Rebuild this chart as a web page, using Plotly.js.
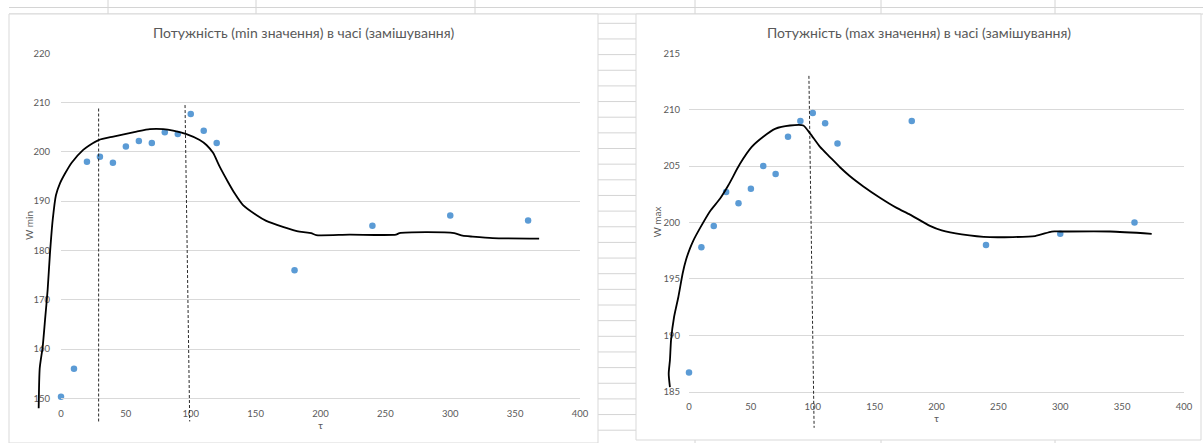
<!DOCTYPE html>
<html>
<head>
<meta charset="utf-8">
<script src="https://cdn.plot.ly/plotly-3.0.1.min.js"></script>
<style>
html,body{margin:0;padding:0;background:#fff;}
#chart{width:1203px;height:443px;}
</style>
</head>
<body>
<div id="chart"></div>
<script>
// ---------- DATA ----------
const tau = [0, 10, 20, 30, 40, 50, 60, 70, 80, 90, 100, 110, 120, 180, 240, 300, 360];
const wMin = [150.3, 156.0, 198.0, 199.0, 197.8, 201.1, 202.2, 201.8, 204.0, 203.65, 207.7, 204.3, 201.8, 176.0, 185.0, 187.1, 186.1];
const wMax = [186.7, 197.8, 199.7, 202.7, 201.7, 203.0, 205.0, 204.3, 207.6, 209.0, 209.7, 208.8, 207.0, 209.0, 198.0, 199.0, 200.0];

// hand-drawn trend curve, min chart
const curveMinT = [-17.2, -16.4, -14.1, -12.3, -10.3, -8.5, -6.4, -3.9, -0.8, 3.1, 8.2, 17.1, 22.3, 29.0, 40.3, 58.2, 68.5, 78.8, 86.4, 96.7, 106.9, 112.1, 117.2, 122.3, 128.7, 133.8, 140.3, 150.5, 158.2, 171, 183.8, 192.8, 196.7, 222.3, 258.2, 260.8, 281.3, 303.1, 309.5, 317.2, 332.6, 368.5];
const curveMinW = [148.0, 156.1, 160.5, 165.9, 172.0, 179.4, 186.2, 191.2, 193.6, 195.6, 197.8, 200.4, 201.4, 202.4, 203.1, 204.1, 204.6, 204.6, 204.3, 203.6, 202.4, 201.4, 199.8, 197.0, 193.9, 191.6, 189.2, 187.2, 186.0, 184.8, 183.8, 183.5, 183.1, 183.2, 183.2, 183.5, 183.7, 183.5, 183.0, 182.8, 182.5, 182.4];

// hand-drawn trend curve, max chart
const curveMaxT = [-15.4, -16.4, -15.4, -14.5, -12.1, -8.6, -5.1, -2.4, 0.8, 3.5, 8.9, 17, 25, 31.8, 41.2, 50.7, 60, 69.5, 81.6, 92.4, 97.8, 105.9, 113.9, 122, 130.1, 140.9, 154.3, 167.8, 178.6, 194.7, 204.2, 220.4, 243.2, 279.6, 293.1, 299.8, 340.2, 373.9];
const curveMaxW = [185.4, 186.6, 187.8, 189.6, 191.6, 193.4, 195.5, 196.7, 197.7, 198.4, 199.5, 201.0, 202.1, 203.3, 205.2, 206.7, 207.6, 208.3, 208.6, 208.6, 207.9, 206.7, 205.8, 204.9, 204.1, 203.2, 202.2, 201.3, 200.7, 199.7, 199.3, 198.95, 198.7, 198.8, 199.2, 199.2, 199.2, 199.0];

// dashed marker lines (tau at top, tau at bottom; W at top, W at bottom)
const cutMinA_T = [29, 29],    cutMinA_W = [208.8, 145.3];
const cutMinB_T = [95.6, 99.2], cutMinB_W = [209.5, 145.3];
const cutMax_T  = [96.9, 101.1], cutMax_W  = [213.0, 181.8];

const xTicks = [0, 50, 100, 150, 200, 250, 300, 350, 400];
const yTicksMin = [150, 160, 170, 180, 190, 200, 210, 220];
const yTicksMax = [185, 190, 195, 200, 205, 210, 215];

const titleMin = 'Потужність (min значення) в часі (замішування)';
const titleMax = 'Потужність (max значення) в часі (замішування)';
const yTitleMin = 'W min';
const yTitleMax = 'W max';
const xTitle = 'τ';

// ---------- LAYOUT HELPERS ----------
const W = 1203, H = 443;
const fx = p => p / W;
const fy = p => 1 - p / H;
function extRange(vis, ext, r) {
  const k = (r[1] - r[0]) / (vis[1] - vis[0]);
  return [r[0] - (vis[0] - ext[0]) * k, r[1] + (ext[1] - vis[1]) * k];
}
const FONT = 'Lato, "Open Sans", sans-serif';
const GRAY = '#595959';
const GRID = '#d9d9d9';

const xRange = [0, 400], yMinRange = [150, 220], yMaxRange = [185, 215];
const xDomL = [fx(61), fx(580)], yDomL = [fy(398.3), fy(53.3)];
const xDomR = [fx(689), fx(1184)], yDomR = [fy(391.7), fy(53.3)];
const xExtL = [fx(28), fx(580)], yExtL = [fy(432), fy(53.3)];
const xExtR = [fx(658), fx(1184)], yExtR = [fy(432), fy(53.3)];

function visX(dom, anchor) {
  return {domain: dom, anchor: anchor, range: xRange, tickvals: xTicks, showgrid: false,
    zeroline: false, showline: true, linecolor: GRID, linewidth: 1,
    ticks: 'outside', ticklen: 6, tickcolor: 'rgba(0,0,0,0)',
    tickfont: {family: FONT, size: 9.5, color: GRAY},
    title: {text: xTitle, font: {family: FONT, size: 10, color: GRAY}, standoff: 2}};
}
function visY(dom, anchor, range, ticks, sl) {
  return {domain: dom, anchor: anchor, range: range, tickvals: ticks, showgrid: true,
    gridcolor: GRID, gridwidth: 1, zeroline: false, showline: false, ticks: 'outside',
    ticklen: sl, tickcolor: 'rgba(0,0,0,0)',
    tickfont: {family: FONT, size: 9.5, color: GRAY}};
}
function hid(dom, anchor, range) {
  return {domain: dom, anchor: anchor, range: range, visible: false, showgrid: false, zeroline: false};
}

// ---------- TRACES ----------
const curveLine = {color: '#000000', width: 1.8, shape: 'spline', smoothing: 0.6};
const dashLine = {color: '#2a2a2a', width: 1, dash: '3px,2px'};
const mk = {color: '#5B9BD5', size: 6.5};

const traces = [
  {x: cutMinA_T, y: cutMinA_W, xaxis: 'x3', yaxis: 'y3', mode: 'lines', line: dashLine, hoverinfo: 'skip'},
  {x: cutMinB_T, y: cutMinB_W, xaxis: 'x3', yaxis: 'y3', mode: 'lines', line: dashLine, hoverinfo: 'skip'},
  {x: curveMinT, y: curveMinW, xaxis: 'x3', yaxis: 'y3', mode: 'lines', line: curveLine},
  {x: tau, y: wMin, xaxis: 'x', yaxis: 'y', mode: 'markers', marker: mk, cliponaxis: false},
  {x: cutMax_T, y: cutMax_W, xaxis: 'x4', yaxis: 'y4', mode: 'lines', line: dashLine, hoverinfo: 'skip'},
  {x: curveMaxT, y: curveMaxW, xaxis: 'x4', yaxis: 'y4', mode: 'lines', line: curveLine},
  {x: tau, y: wMax, xaxis: 'x2', yaxis: 'y2', mode: 'markers', marker: mk, cliponaxis: false}
];

// ---------- SPREADSHEET BACKDROP (decoration) ----------
const LINE = '#d4d4d4';
const shapes = [];
function pl(x0, y0, x1, y1, c) {
  shapes.push({type: 'line', xref: 'paper', yref: 'paper', x0: fx(x0), x1: fx(x1), y0: fy(y0), y1: fy(y1),
    line: {color: c || LINE, width: 1}, layer: 'below'});
}
pl(9, 7.5, 1203, 7.5);
pl(9, 14, 1203, 14);
[108, 256, 475, 695, 881, 1055].forEach(x => pl(x, 0, x, 14));
[695, 881, 1055].forEach(x => pl(x, 440, x, 443));
for (let y = 23.3; y < 443; y += 15.65) pl(598, y, 636, y);
shapes.push({type: 'rect', xref: 'paper', yref: 'paper', x0: fx(9), x1: fx(598), y0: fy(443), y1: fy(14),
  fillcolor: '#ffffff', line: {color: '#d9d9d9', width: 1}, layer: 'below'});
shapes.push({type: 'rect', xref: 'paper', yref: 'paper', x0: fx(636), x1: fx(1201), y0: fy(440), y1: fy(14),
  fillcolor: '#ffffff', line: {color: '#d9d9d9', width: 1}, layer: 'below'});

function ann(text, x, y, size, angle) {
  return {text: text, xref: 'paper', yref: 'paper', x: fx(x), y: fy(y), xanchor: 'center', yanchor: 'middle',
    showarrow: false, textangle: angle || 0, font: {family: FONT, size: size, color: GRAY}};
}

const layout = {
  width: W, height: H,
  margin: {l: 0, r: 0, t: 0, b: 0, pad: 0},
  paper_bgcolor: '#ffffff', plot_bgcolor: 'rgba(0,0,0,0)',
  showlegend: false,
  font: {family: FONT, color: GRAY},
  xaxis: visX(xDomL, 'y'),
  yaxis: visY(yDomL, 'x', yMinRange, yTicksMin, 8),
  xaxis2: visX(xDomR, 'y2'),
  yaxis2: visY(yDomR, 'x2', yMaxRange, yTicksMax, 6),
  xaxis3: hid(xExtL, 'y3', extRange(xDomL, xExtL, xRange)),
  yaxis3: hid(yExtL, 'x3', extRange(yDomL, yExtL, yMinRange)),
  xaxis4: hid(xExtR, 'y4', extRange(xDomR, xExtR, xRange)),
  yaxis4: hid(yExtR, 'x4', extRange(yDomR, yExtR, yMaxRange)),
  shapes: shapes,
  annotations: [
    ann(titleMin, 303, 32, 14),
    ann(titleMax, 919, 32, 14),
    ann(yTitleMin, 29, 226, 10, -90),
    ann(yTitleMax, 656.5, 222, 10, -90)
  ]
};

Plotly.newPlot('chart', traces, layout, {staticPlot: true, displayModeBar: false});
</script>
</body>
</html>
